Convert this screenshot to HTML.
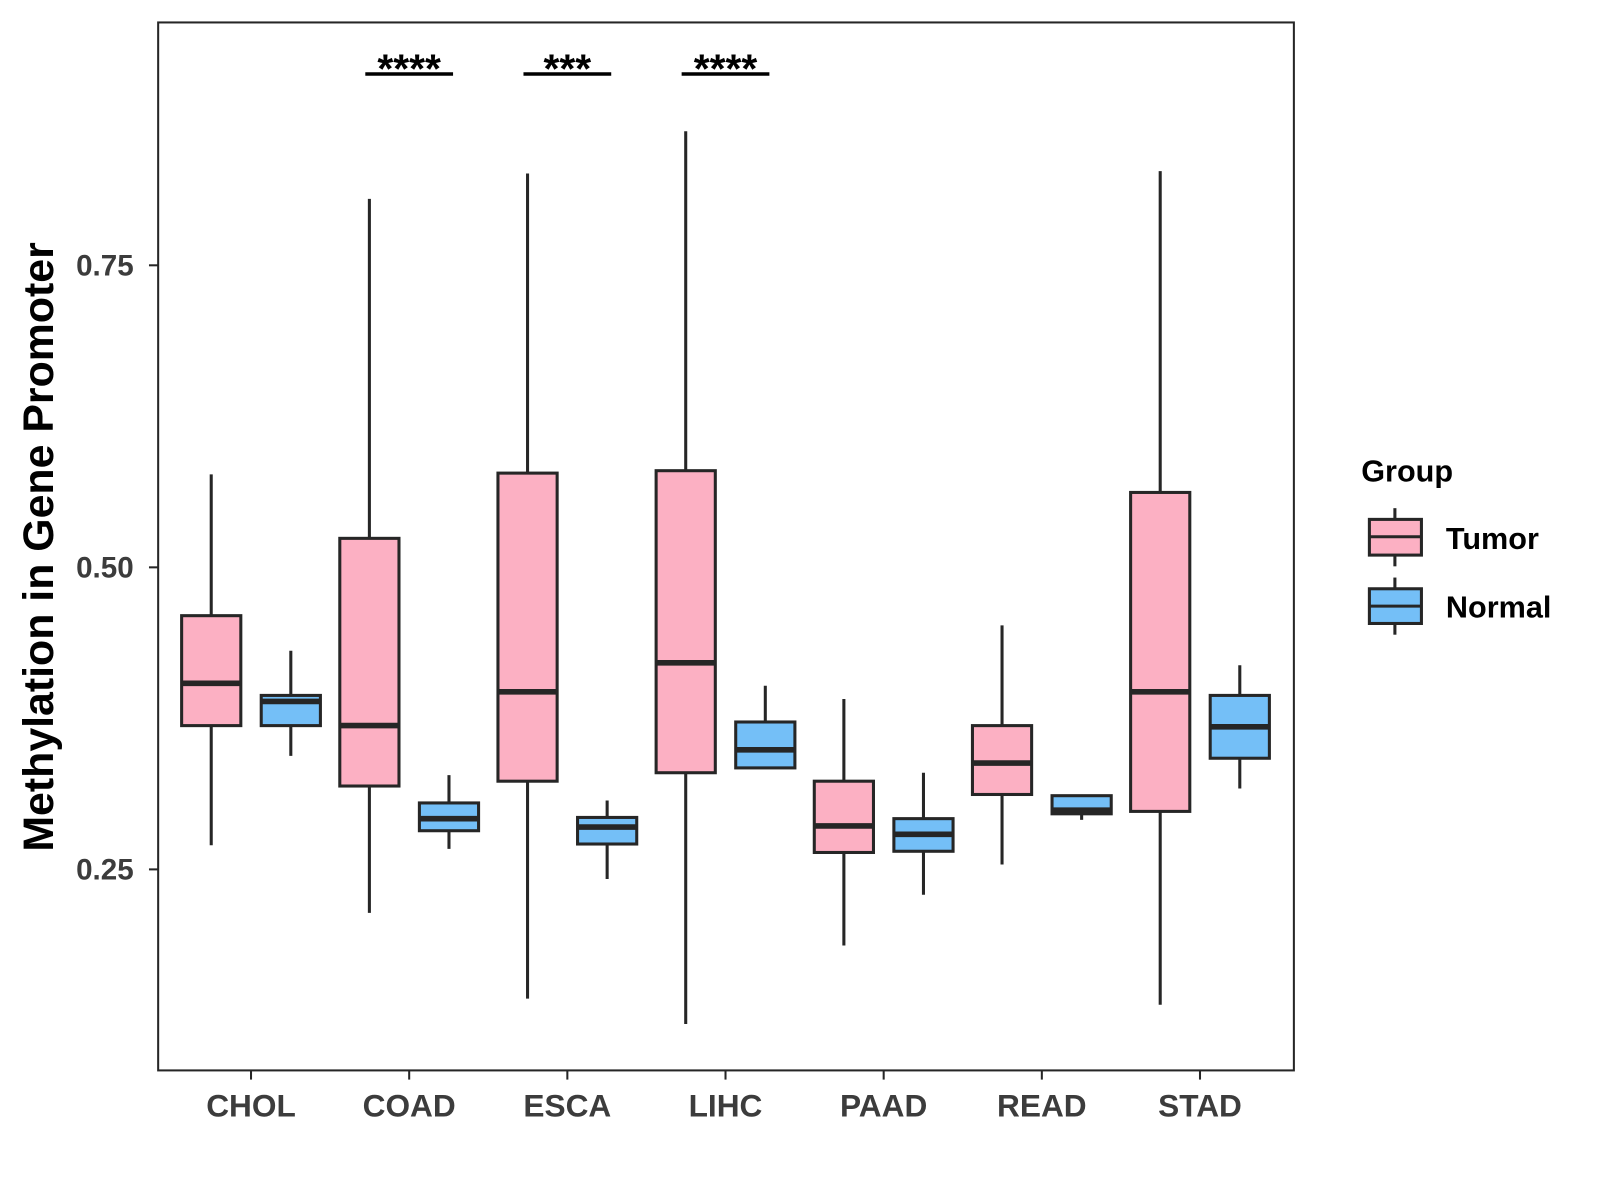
<!DOCTYPE html>
<html><head><meta charset="utf-8"><style>
html,body{margin:0;padding:0;background:#fff;}
svg{display:block;font-family:"Liberation Sans",Arial,sans-serif;}
</style></head><body>
<svg id="chart" width="1600" height="1200" viewBox="0 0 1568 1176" preserveAspectRatio="none" xmlns="http://www.w3.org/2000/svg">
<rect x="0" y="0" width="1568" height="1176" fill="#fff"/>
<g id="marks"></g>
<rect x="155" y="22" width="1113" height="1027" fill="none" stroke="#262626" stroke-width="2"/>
<g id="axes"></g>
<text transform="translate(52,536) rotate(-90)" text-anchor="middle" font-size="42" font-weight="bold" fill="#000">Methylation in Gene Promoter</text>
<g>
<text x="1334" y="472" font-size="30" font-weight="bold" fill="#000">Group</text>
<line x1="1367" y1="498" x2="1367" y2="555" stroke="#262626" stroke-width="3"/>
<rect x="1342" y="509" width="51" height="35" fill="#fcb0c3" stroke="#262626" stroke-width="3"/>
<line x1="1342" y1="526" x2="1393" y2="526" stroke="#262626" stroke-width="3"/>
<text x="1417" y="538" font-size="30" font-weight="bold" fill="#000">Tumor</text>
<line x1="1367" y1="566" x2="1367" y2="622" stroke="#262626" stroke-width="3"/>
<rect x="1342" y="577" width="51" height="34" fill="#74bff7" stroke="#262626" stroke-width="3"/>
<line x1="1342" y1="594" x2="1393" y2="594" stroke="#262626" stroke-width="3"/>
<text x="1417" y="605" font-size="30" font-weight="bold" fill="#000">Normal</text>
</g>
</svg>
<script>
const categories = ["CHOL","COAD","ESCA","LIHC","PAAD","READ","STAD"];
const tumorMin = [0.270,0.214,0.143,0.122,0.187,0.254,0.138];
const tumorQ1  = [0.369,0.319,0.323,0.330,0.264,0.312,0.298];
const tumorMed = [0.404,0.369,0.397,0.421,0.286,0.338,0.397];
const tumorQ3  = [0.460,0.524,0.578,0.580,0.323,0.369,0.562];
const tumorMax = [0.577,0.805,0.826,0.861,0.391,0.452,0.828];
const normalMin = [0.344,0.267,0.242,0.336,0.229,0.291,0.317];
const normalQ1  = [0.369,0.282,0.271,0.334,0.265,0.296,0.342];
const normalMed = [0.389,0.292,0.285,0.349,0.279,0.299,0.368];
const normalQ3  = [0.394,0.305,0.293,0.372,0.292,0.311,0.394];
const normalMax = [0.431,0.328,0.307,0.402,0.330,0.312,0.419];
const yTicks = [0.25,0.50,0.75];
const yTickLabels = ["0.25","0.50","0.75"];
const sigCategories = ["COAD","ESCA","LIHC"];
const sigLabels = ["****","***","****"];

const NS="http://www.w3.org/2000/svg";
const y = v => 852 - (v-0.25)*1184;
const x = c => 246 + categories.indexOf(c)*155;
const marks=document.getElementById('marks'), axes=document.getElementById('axes');
function mk(tag,attrs,parent){const e=document.createElementNS(NS,tag);for(const k in attrs)e.setAttribute(k,attrs[k]);parent.appendChild(e);return e;}

function box(cx,mn,q1,md,q3,mx,fill,name){
  const g=mk('g',{},marks);
  
  
  mk('line',{x1:cx,x2:cx,y1:y(mx),y2:y(mn),stroke:'#262626','stroke-width':3},g);
  mk('rect',{x:cx-29,y:y(q3),width:58,height:y(q1)-y(q3),fill:fill,stroke:'#262626','stroke-width':3},g);
  mk('line',{x1:cx-29,x2:cx+29,y1:y(md),y2:y(md),stroke:'#262626','stroke-width':5.5},g);
}
categories.forEach((c,i)=>{
  box(x(c)-39,tumorMin[i],tumorQ1[i],tumorMed[i],tumorQ3[i],tumorMax[i],'#fcb0c3','box-tumor-'+c.toLowerCase());
  box(x(c)+39,normalMin[i],normalQ1[i],normalMed[i],normalQ3[i],normalMax[i],'#74bff7','box-normal-'+c.toLowerCase());
  mk('line',{x1:x(c),x2:x(c),y1:1049,y2:1058,stroke:'#262626','stroke-width':2},axes);
  const t=mk('text',{x:x(c),y:1094,'text-anchor':'middle','font-size':31,'font-weight':'bold',fill:'#3c3c3c'},axes);
  
  
  t.textContent=c;
});
yTicks.forEach((v,i)=>{
  mk('line',{x1:146,x2:155,y1:y(v),y2:y(v),stroke:'#262626','stroke-width':2},axes);
  const t=mk('text',{x:131,y:y(v)+10,'text-anchor':'end','font-size':29,'font-weight':'bold',fill:'#3c3c3c'},axes);
  
  
  t.textContent=yTickLabels[i];
});
sigCategories.forEach((c,i)=>{
  const g=mk('g',{},marks);
  
  
  mk('line',{x1:x(c)-43,x2:x(c)+43,y1:72.5,y2:72.5,stroke:'#000','stroke-width':3.5},g);
  const t=mk('text',{x:x(c),y:81,'text-anchor':'middle','font-size':40,'font-weight':'bold',fill:'#000'},g);
  t.textContent=sigLabels[i];
});
</script>
</body></html>
